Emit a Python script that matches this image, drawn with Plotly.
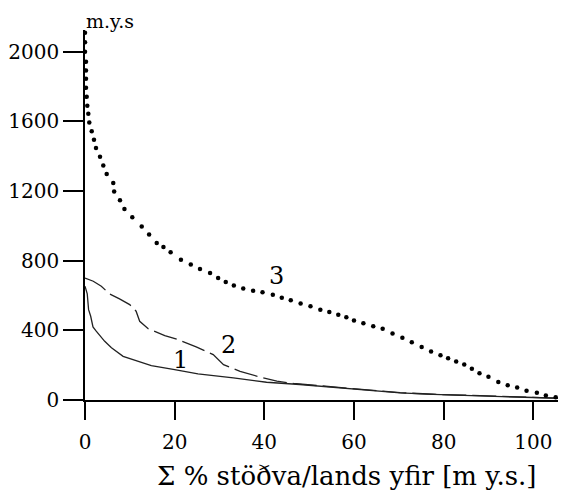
import plotly.graph_objects as go

# Curve 1 (solid)
c1_x = [0.0, 0.5, 0.8, 1.27, 1.78, 2.5, 4.4, 5.9, 8.5, 11.8, 14.8, 20.0, 25.2, 33.1, 40.5, 47.9, 55.4, 62.8, 70.3, 77.7, 85.1, 92.6, 100.0, 106.7]
c1_y = [653, 610, 519, 481, 420, 395, 337, 300, 251, 223, 198, 175, 150, 127, 102, 89, 73, 56, 41, 32, 26, 20, 14, 9]

# Curve 2 (dashed)
c2_x = [0.0, 1.85, 3.64, 5.5, 7.7, 9.97, 11.4, 12.2, 14.1, 15.9, 17.8, 20.7, 24.8, 28.6, 30.9, 34.6, 38.3, 42.8, 46.5, 55.4, 62.8, 70.3, 77.7, 85.1, 92.6, 100.0, 106.7]
c2_y = [700, 682, 653, 609, 581, 548, 510, 452, 409, 389, 370, 347, 305, 261, 203, 165, 137, 108, 95, 75, 58, 42, 33, 27, 21, 15, 10]

# Curve 3 (dotted)
c3_x = [0.0, 0.0, 0.0, 0.22, 0.22, 0.22, 0.22, 0.38, 0.51, 0.74, 0.96, 1.5, 2.0, 2.45, 3.35, 4.08, 4.84, 6.3, 6.5, 7.8, 8.8, 10.55, 12.65, 14.3, 16.0, 17.5, 19.1, 21.4, 23.6, 25.65, 27.9, 29.7, 31.4, 33.2, 35.3, 37.5, 39.6, 41.9, 43.9, 45.9, 48.1, 50.3, 52.5, 54.5, 56.5, 58.3, 60.0, 62.1, 64.3, 66.4, 68.6, 70.8, 72.9, 75.1, 77.2, 79.3, 81.0, 82.8, 84.6, 86.3, 88.0, 90.0, 92.2, 94.3, 96.4, 98.5, 100.8, 102.8, 105.0, 107.1]
c3_y = [2109, 2055, 2000, 1942, 1893, 1845, 1793, 1741, 1690, 1644, 1594, 1543, 1495, 1447, 1397, 1347, 1298, 1246, 1198, 1147, 1097, 1049, 997, 951, 902, 879, 848, 806, 778, 753, 730, 701, 678, 657, 640, 627, 619, 605, 587, 573, 554, 538, 519, 506, 489, 475, 457, 441, 424, 409, 382, 357, 332, 305, 278, 257, 240, 221, 204, 179, 154, 133, 104, 85, 72, 53, 41, 26, 16, 3]

x_ticks = [0, 20, 40, 60, 80, 100]
y_ticks = [0, 400, 800, 1200, 1600, 2000]
curve_labels = ["1", "2", "3"]
label_x = [21.4, 32.1, 42.8]
label_y = [227, 316, 714]

FONT = "DejaVu Serif"

fig = go.Figure()
fig.add_trace(go.Scatter(x=c1_x, y=c1_y, mode="lines",
                         line=dict(color="#222", width=1.3), showlegend=False))
fig.add_trace(go.Scatter(x=c2_x, y=c2_y, mode="lines",
                         line=dict(color="#222", width=1.3, dash="24px,6px"), showlegend=False))
fig.add_trace(go.Scatter(x=c3_x, y=c3_y, mode="markers",
                         marker=dict(color="black", size=4.5), showlegend=False))

for t, lx, ly in zip(curve_labels, label_x, label_y):
    fig.add_annotation(x=lx, y=ly, text=t, showarrow=False,
                       xanchor="center", yanchor="middle",
                       font=dict(family=FONT, size=24, color="black"))

fig.add_annotation(x=0.052, y=1.025, xref="paper", yref="paper", text="m.y.s",
                   xanchor="center", yanchor="middle",
                   showarrow=False, font=dict(family=FONT, size=19, color="black"))
fig.add_annotation(x=0.5457, y=-0.2054, xref="paper", yref="paper",
                   text="Σ % stöðva/lands yfir [m y.s.]",
                   xanchor="center", yanchor="middle",
                   showarrow=False, font=dict(family=FONT, size=26, color="black"))

fig.update_layout(
    width=558, height=484,
    margin=dict(l=77, r=0, t=22, b=92),
    plot_bgcolor="white", paper_bgcolor="white",
    font=dict(family=FONT, size=20, color="black"),
)
fig.update_xaxes(range=[0, 107.3], tickvals=x_ticks, ticktext=[str(v) for v in x_ticks],
                 showline=True, linecolor="black", linewidth=1.5,
                 ticks="outside", ticklen=18, tickwidth=1.5, tickcolor="black",
                 ticklabelstandoff=5,
                 showgrid=False, zeroline=False)
fig.update_yaxes(range=[0, 2125], tickvals=y_ticks, ticktext=[str(v) for v in y_ticks],
                 showline=True, linecolor="black", linewidth=1.5,
                 ticks="outside", ticklen=20, tickwidth=1.5, tickcolor="black",
                 showgrid=False, zeroline=False)

fig.write_html("out.html")
